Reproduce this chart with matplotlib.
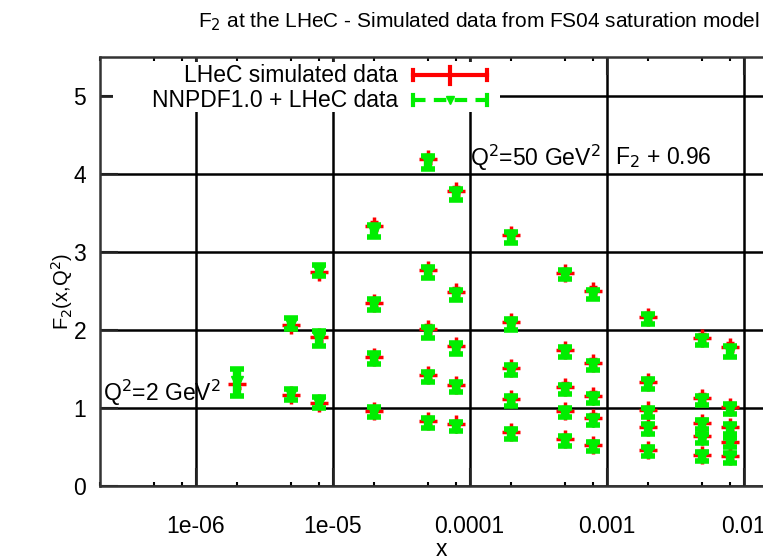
"""
F2 at the LHeC: simulated data (FS04 saturation model) vs NNPDF1.0 + LHeC fit.
"""

import numpy as np
import matplotlib

matplotlib.use("Agg")
import matplotlib.pyplot as plt
from matplotlib.patches import Rectangle

plt.rcParams["font.family"] = ["Liberation Sans", "DejaVu Sans"]

# x bins, one entry per point (columns read left to right, top to bottom)
x_vals = [2e-6,
          5e-6, 5e-6,
          8e-6, 8e-6, 8e-6,
          2e-5, 2e-5, 2e-5, 2e-5,
          5e-5, 5e-5, 5e-5, 5e-5, 5e-5,
          8e-5, 8e-5, 8e-5, 8e-5, 8e-5,
          2e-4, 2e-4, 2e-4, 2e-4, 2e-4,
          5e-4, 5e-4, 5e-4, 5e-4, 5e-4,
          8e-4, 8e-4, 8e-4, 8e-4, 8e-4,
          2e-3, 2e-3, 2e-3, 2e-3, 2e-3,
          5e-3, 5e-3, 5e-3, 5e-3, 5e-3,
          8e-3, 8e-3, 8e-3, 8e-3, 8e-3]

f2_lhec = [1.31,
           2.06, 1.17,
           2.75, 1.91, 1.07,
           3.33, 2.35, 1.66, 0.96,
           4.19, 2.77, 2.01, 1.42, 0.83,
           3.78, 2.49, 1.79, 1.29, 0.79,
           3.22, 2.10, 1.52, 1.12, 0.69,
           2.73, 1.75, 1.27, 0.96, 0.60,
           2.50, 1.58, 1.15, 0.87, 0.53,
           2.17, 1.34, 0.97, 0.76, 0.46,
           1.90, 1.13, 0.81, 0.64, 0.40,
           1.78, 1.02, 0.76, 0.57, 0.39]

f2_nnpdf = [1.33,
            2.08, 1.18,
            2.76, 1.89, 1.07,
            3.27, 2.33, 1.64, 0.95,
            4.15, 2.74, 1.97, 1.40, 0.81,
            3.74, 2.45, 1.76, 1.27, 0.76,
            3.19, 2.07, 1.49, 1.09, 0.67,
            2.71, 1.72, 1.24, 0.94, 0.58,
            2.46, 1.55, 1.12, 0.84, 0.51,
            2.14, 1.31, 0.94, 0.73, 0.44,
            1.87, 1.10, 0.79, 0.61, 0.38,
            1.73, 0.99, 0.73, 0.56, 0.36]

err_lhec = [0.05] * len(x_vals)
err_nnpdf = [0.17,
             0.07, 0.07,
             0.07, 0.10, 0.07,
             0.08, 0.07, 0.07, 0.06,
             0.08, 0.07, 0.07, 0.06, 0.06,
             0.07, 0.07, 0.07, 0.06, 0.06,
             0.07, 0.07, 0.06, 0.06, 0.06,
             0.06, 0.06, 0.06, 0.06, 0.06,
             0.06, 0.06, 0.06, 0.06, 0.06,
             0.06, 0.06, 0.06, 0.06, 0.06,
             0.06, 0.06, 0.06, 0.06, 0.06,
             0.07, 0.06, 0.06, 0.06, 0.06]

x_ticks = [1e-6, 1e-5, 1e-4, 1e-3, 1e-2]
x_tick_labels = ["1e-06", "1e-05", "0.0001", "0.001", "0.01"]
y_ticks = [0, 1, 2, 3, 4, 5]

RED = "#ff0000"
GREEN = "#00ee00"
FS = 16.5

fig = plt.figure(figsize=(7.63, 5.6), dpi=100)
# axes run past the right edge, like the cropped original
ax = fig.add_axes([0.131, 0.132, 0.969, 0.766])
ax.set_xscale("log")

ax.errorbar(x_vals, f2_lhec, yerr=err_lhec, fmt="+", color=RED, ms=13, mew=2.5,
            elinewidth=2.5, capsize=3, capthick=2.5, zorder=3)
ax.errorbar(x_vals, f2_nnpdf, yerr=err_nnpdf, fmt="v", color=GREEN, ms=8,
            elinewidth=6, capsize=5, capthick=4, zorder=4)

# ticks and grid
ax.set_xticks(x_ticks)
ax.set_xticklabels(x_tick_labels)
minor = [m * d for d in [1e-7, 1e-6, 1e-5, 1e-4, 1e-3, 1e-2] for m in (2, 5, 8)]
ax.set_xticks(minor, minor=True)
ax.set_xticklabels([], minor=True)
ax.set_yticks(y_ticks)
# limits after the ticks, set_xticks would widen them
ax.set_xlim(2e-7, 5e-2)
ax.set_ylim(0, 5.5)
ax.tick_params(which="major", direction="in", length=13, width=1.5, top=True,
               labelsize=FS, color="#222222")
ax.tick_params(which="minor", direction="in", length=3, width=1.5, top=True)
ax.tick_params(axis="x", which="major", pad=21)
ax.tick_params(axis="y", which="major", pad=10)
ax.grid(True, which="major", color="black", lw=1.8)
ax.set_axisbelow(True)
for s in ax.spines.values():
    s.set_linewidth(1.8)
    s.set_color("#333333")

fig.text(441 / 763, 1 - 549 / 560, "x", fontsize=FS, ha="center", va="center")
fig.text(62 / 763, 1 - 291 / 560, "F$_2$(x,Q$^2$)", fontsize=14.5, rotation=90,
         ha="center", va="center")

fig.text(198 / 763, 1 - 22 / 560, "F$_2$ at the LHeC - Simulated data from FS04 saturation model",
         fontsize=15.0, ha="left", va="center")

# annotations
ax.text(0.004, 0.217, "Q$^2$=2 GeV$^2$", transform=ax.transAxes, fontsize=FS,
        va="center", ha="left", zorder=5)
ax.text(0.5007, 0.765, "Q$^2$=50 GeV$^2$", transform=ax.transAxes, fontsize=FS,
        va="center", ha="left", zorder=5)
ax.text(0.697, 0.765, "F$_2$ + 0.96", transform=ax.transAxes, fontsize=FS,
        va="center", ha="left", zorder=5)

# gnuplot style key
ax.add_patch(Rectangle((0.018, 0.872), 0.523, 0.116, transform=ax.transAxes,
                       facecolor="white", edgecolor="none", zorder=2.5))
key_y = [0.958, 0.900]
key_labels = ["LHeC simulated data", "NNPDF1.0 + LHeC data"]
for ky, lab in zip(key_y, key_labels):
    ax.text(0.403, ky, lab, transform=ax.transAxes, fontsize=FS, ha="right",
            va="center", zorder=6)
x0, x1 = 0.424, 0.524
ax.plot([x0, x1], [key_y[0]] * 2, color=RED, lw=3, transform=ax.transAxes,
        zorder=6, clip_on=False)
ax.plot([x0, x1], [key_y[1]] * 2, color=GREEN, lw=3, ls=(0, (3, 2)),
        transform=ax.transAxes, zorder=6, clip_on=False)
for ky, col in zip(key_y, [RED, GREEN]):
    for xx in (x0, x1):
        ax.plot([xx, xx], [ky - 0.012, ky + 0.012], color=col, lw=3,
                transform=ax.transAxes, zorder=6, clip_on=False)
ax.plot([0.474, 0.474], [key_y[0] - 0.02, key_y[0] + 0.02], color=RED, lw=3,
        transform=ax.transAxes, zorder=6)
ax.plot([0.474], [key_y[1]], marker="v", color=GREEN, ms=6,
        transform=ax.transAxes, zorder=6)

fig.savefig("out.png", dpi=100)
